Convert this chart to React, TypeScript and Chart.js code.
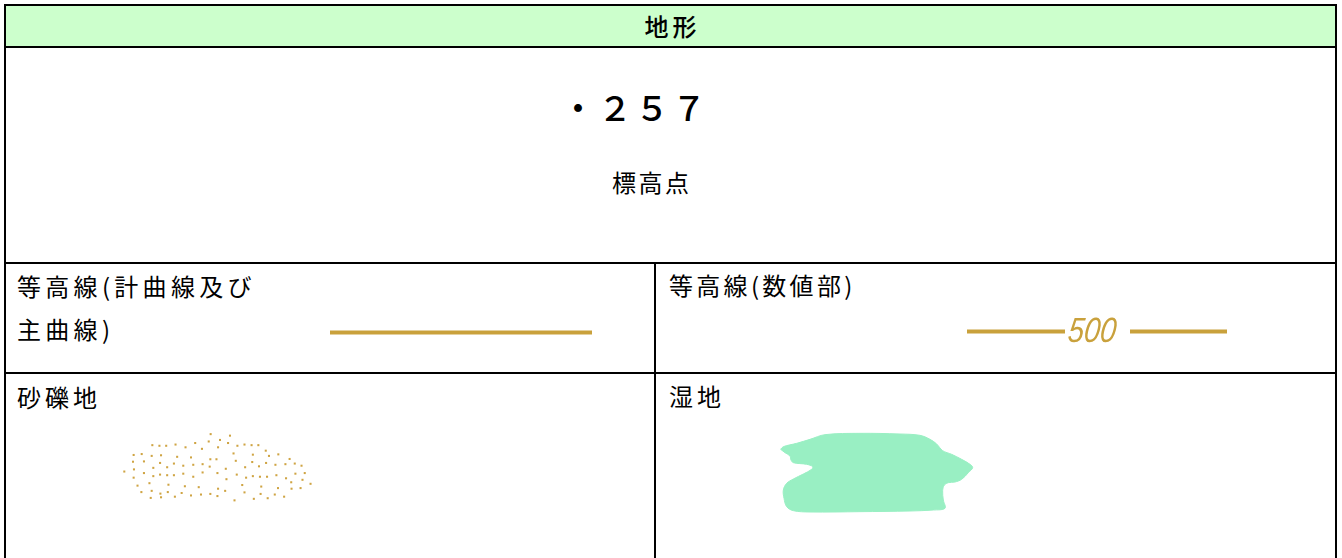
import React, { useEffect, useRef } from "react";
import { Chart, registerables } from "chart.js";

Chart.register(...registerables);

// ---- text content ----
const headerTitle = "地形";
const spotHeightValue = "・２５７";
const spotHeightLabel = "標高点";
const contourLabelLines = ["等高線(計曲線及び", "主曲線)"];
const contourValueTitle = "等高線(数値部)";
const gravelTitle = "砂礫地";
const wetlandTitle = "湿地";
const contourIndexLabel = "500";

// ---- colours ----
const GOLD = "#c9a13c";
const GRAVEL = "#cfa443";
const WETLAND = "#99efc3";
const HEADER_BG = "#ccffcc";

// ---- symbol data (legend units) ----
const contourLineX = [0, 100];
const contourLineY = [0, 0];

const contourValueLeftX = [0, 98];
const contourValueRightX = [163, 260];
const contourValueY = [0, 0];
const contourValueLabelX = 100;

const gravelDots: [number, number][] = [
  [331, 33], [391, 38],
  [360, 52], [325, 57], [385, 62], [283, 62],
  [150, 69], [172, 71], [193, 71], [222, 67], [253, 76], [304, 81], [354, 76], [414, 71], [436, 67], [458, 69], [479, 69],
  [502, 87], [402, 96], [541, 99], [512, 104], [462, 100],
  [92, 101], [117, 98], [148, 104], [177, 102], [227, 107], [270, 109], [330, 115], [349, 115], [409, 120], [576, 114],
  [90, 123], [124, 122], [174, 127], [217, 129], [153, 143], [196, 141], [246, 136], [277, 133], [306, 131], [328, 139],
  [378, 146], [438, 141], [460, 124], [481, 138], [503, 127], [532, 133], [563, 131], [592, 129], [613, 136],
  [63, 155], [93, 148], [124, 160], [174, 165], [196, 167], [217, 167], [246, 162], [277, 172], [306, 158], [352, 160],
  [412, 165], [441, 175], [462, 170], [484, 172], [506, 172], [535, 167], [565, 177], [594, 162], [623, 160], [616, 182],
  [581, 190], [641, 195],
  [92, 175], [153, 170], [380, 180], [141, 193], [104, 201], [200, 198], [251, 203], [294, 206], [354, 211], [376, 218],
  [429, 199], [488, 204], [540, 209], [582, 211], [610, 209],
  [116, 222], [148, 218], [175, 227], [198, 222], [241, 225], [270, 233], [301, 230], [330, 228], [352, 235], [436, 223],
  [486, 228], [530, 230], [559, 237],
  [145, 241], [177, 239], [220, 237], [405, 249], [465, 244], [508, 242],
];

const wetlandOutline: [number, number][] = [
  [62, 88], [70, 80], [110, 70], [150, 58], [195, 44], [300, 40], [420, 42], [480, 46],
  [510, 58], [530, 72], [548, 92], [575, 103], [605, 118], [630, 133], [638, 143],
  [625, 158], [605, 178], [585, 186], [565, 188], [553, 195], [548, 212], [550, 240], [555, 265],
  [520, 270], [450, 273], [300, 275], [150, 276], [100, 272], [80, 260], [72, 235], [70, 210],
  [80, 190], [100, 177], [130, 162], [155, 148], [158, 140], [140, 133], [100, 128], [93, 120],
  [90, 108], [75, 98], [62, 88],
];

const FONT_JP = "'Noto Sans CJK JP', 'Noto Sans', sans-serif";

function baseOptions(xmin: number, xmax: number, ymin: number, ymax: number, reverseY = false): any {
  return {
    responsive: false,
    maintainAspectRatio: false,
    animation: false,
    events: [],
    layout: { padding: 0 },
    plugins: { legend: { display: false }, tooltip: { enabled: false }, title: { display: false } },
    scales: {
      x: { type: "linear", display: false, min: xmin, max: xmax },
      y: { type: "linear", display: false, min: ymin, max: ymax, reverse: reverseY },
    },
  };
}

const toPoints = (xs: number[], ys: number[]) => xs.map((x, i) => ({ x, y: ys[i] }));

const contourLabelPlugin = {
  id: "contourLabel",
  afterDatasetsDraw(chart: any) {
    const { ctx, scales } = chart;
    const px = scales.x.getPixelForValue(contourValueLabelX);
    const py = scales.y.getPixelForValue(0);
    ctx.save();
    ctx.fillStyle = GOLD;
    ctx.font = "italic 35px 'Liberation Sans', Arial, sans-serif";
    ctx.textBaseline = "alphabetic";
    ctx.textAlign = "left";
    ctx.translate(px, py + 10.5);
    ctx.transform(0.82, 0, -0.12, 1, 0, 0);
    ctx.fillText(contourIndexLabel, 0, 0);
    ctx.restore();
  },
};

function MiniChart(props: { left: number; top: number; width: number; height: number; make: () => any }) {
  const ref = useRef<HTMLCanvasElement | null>(null);
  useEffect(() => {
    if (!ref.current) return;
    const chart = new Chart(ref.current, props.make());
    return () => chart.destroy();
  }, []);
  return (
    <canvas
      ref={ref}
      width={props.width}
      height={props.height}
      style={{ position: "absolute", left: props.left, top: props.top, width: props.width, height: props.height }}
    />
  );
}

const makeContourLine = () => ({
  type: "scatter",
  data: {
    datasets: [
      {
        data: toPoints(contourLineX, contourLineY),
        showLine: true,
        borderColor: GOLD,
        borderWidth: 4,
        pointRadius: 0,
        borderCapStyle: "butt",
      },
    ],
  },
  options: baseOptions(0, 100, -1, 1),
});

const makeContourValue = () => ({
  type: "scatter",
  data: {
    datasets: [
      { data: toPoints(contourValueLeftX, contourValueY), showLine: true, borderColor: GOLD, borderWidth: 4, pointRadius: 0 },
      { data: toPoints(contourValueRightX, contourValueY), showLine: true, borderColor: GOLD, borderWidth: 4, pointRadius: 0 },
    ],
  },
  options: baseOptions(0, 260, -1, 1),
  plugins: [contourLabelPlugin],
});

const makeGravel = () => ({
  type: "scatter",
  data: {
    datasets: [
      {
        data: gravelDots.map(([x, y]) => ({ x, y })),
        pointStyle: "rect",
        pointRadius: 1.45,
        backgroundColor: GRAVEL,
        borderWidth: 0,
      },
    ],
  },
  options: baseOptions(0, 720, 0, 300, true),
});

const makeWetland = () => ({
  type: "scatter",
  data: {
    datasets: [
      {
        data: wetlandOutline.map(([x, y]) => ({ x, y })),
        showLine: true,
        fill: "shape",
        tension: 0.35,
        backgroundColor: WETLAND,
        borderColor: WETLAND,
        borderWidth: 1,
        pointRadius: 0,
      },
    ],
  },
  options: baseOptions(0, 720, 0, 330, true),
});

const line = (left: number, top: number, width: number, height: number, bg = "#000") => (
  <div style={{ position: "absolute", left, top, width, height, background: bg }} />
);

const textStyle = (left: number, top: number, size: number, ls: number, lh: number, weight = 400): React.CSSProperties => ({
  position: "absolute",
  left,
  top,
  fontFamily: FONT_JP,
  fontSize: size,
  fontWeight: weight,
  letterSpacing: ls,
  lineHeight: lh + "px",
  color: "#000",
  whiteSpace: "nowrap",
});

export default function App() {
  return (
    <div
      style={{
        position: "absolute",
        left: 0,
        top: 0,
        width: 1342,
        height: 558,
        background: "#fff",
        overflow: "hidden",
      }}
    >
      {/* header background */}
      {line(6, 6, 1329, 40, HEADER_BG)}
      {/* borders */}
      {line(4, 4, 1333, 2)}
      {line(4, 4, 2, 560)}
      {line(1335, 4, 2, 560)}
      {line(4, 46, 1333, 2)}
      {line(4, 262, 1333, 2)}
      {line(4, 372, 1333, 2)}
      {line(654, 262, 2, 300)}

      {/* texts */}
      <div style={{ ...textStyle(6, 11, 24, 4, 30, 500), width: 1329, textAlign: "center", paddingLeft: 4, boxSizing: "border-box" }}>
        {headerTitle}
      </div>
      <div style={textStyle(561, 87, 34, 3, 40, 500)}>{spotHeightValue}</div>
      <div style={textStyle(612, 167, 24, 2.5, 30)}>{spotHeightLabel}</div>
      <div style={textStyle(17, 264, 24, 4.3, 43)}>
        {contourLabelLines[0]}
        <br />
        {contourLabelLines[1]}
      </div>
      <div style={textStyle(669, 270, 24, 3.3, 30)}>{contourValueTitle}</div>
      <div style={textStyle(17, 382, 24, 4, 30)}>{gravelTitle}</div>
      <div style={textStyle(669, 381, 24, 4, 30)}>{wetlandTitle}</div>

      {/* symbols */}
      <MiniChart left={330} top={322} width={262} height={21} make={makeContourLine} />
      <MiniChart left={967} top={309} width={260} height={45} make={makeContourValue} />
      <MiniChart left={100} top={420} width={240} height={100} make={makeGravel} />
      <MiniChart left={760} top={420} width={240} height={110} make={makeWetland} />
    </div>
  );
}
